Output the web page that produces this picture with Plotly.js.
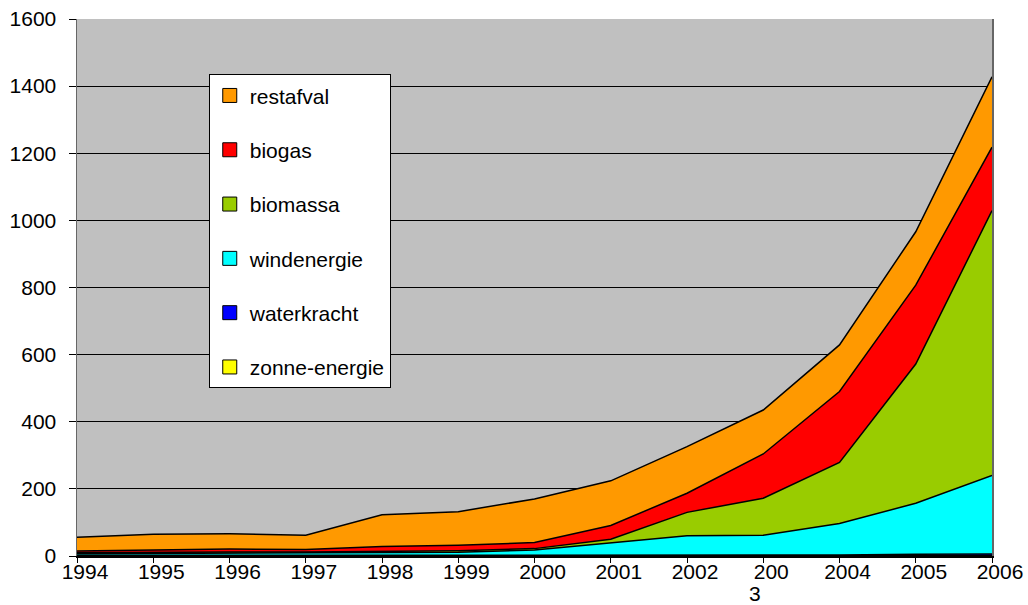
<!DOCTYPE html>
<html>
<head>
<meta charset="utf-8">
<script src="https://cdn.plot.ly/plotly-3.0.1.min.js"></script>
<style>html,body{margin:0;padding:0;background:#fff;}#chart{width:1028px;height:605px;}</style>
</head>
<body>
<div id="chart"></div>
<script>
const years = [1994,1995,1996,1997,1998,1999,2000,2001,2002,2003,2004,2005,2006];
const yearLabels = ["1994","1995","1996","1997","1998","1999","2000","2001","2002","200","2004","2005","2006"];
const wrappedLabelPart = "3";
const zonneEnergie = [0,0,0,0,0,0,0,0,0,0,0,1,1];
const waterkracht  = [2,2,2,2,2,2,2,3,3,3,3,4,5];
const windenergie  = [5,6,6,6,8,9,16,35,57,59,94,152,234];
const biomassa     = [3,4,4,4,4,5,4,12,70,110,182,415,789];
const biogas       = [5,7,9,7,14,16,18,41,57,132,211,235,189];
const restafval    = [41,46,45,43,95,100,130,133,139,131,139,159,210];

const series = [
  {name:'zonne-energie', y:zonneEnergie, color:'#FFFF00'},
  {name:'waterkracht', y:waterkracht, color:'#0000FF'},
  {name:'windenergie', y:windenergie, color:'#00FFFF'},
  {name:'biomassa', y:biomassa, color:'#99CC00'},
  {name:'biogas', y:biogas, color:'#FF0000'},
  {name:'restafval', y:restafval, color:'#FF9900'}
];

const traces = series.map(s => ({
  type:'scatter', mode:'lines', x:years, y:s.y, name:s.name,
  stackgroup:'one', showlegend:false,
  line:{color:'#000', width:1.5},
  fillcolor:s.color
}));

// legend-only entries with square swatches, top entry first (restafval)
const legendTraces = series.slice().reverse().map(s => ({
  type:'scatter', mode:'markers', x:[null], y:[null], name:s.name,
  legendgroup:s.name, showlegend:true,
  marker:{symbol:'square', size:14, color:s.color, line:{color:'#000', width:1}}
}));

const layout = {
  width:1028, height:605,
  margin:{l:77, r:36, t:19, b:49},
  paper_bgcolor:'#fff', plot_bgcolor:'#C0C0C0',
  font:{family:'Arial, Liberation Sans, sans-serif', size:21, color:'#000'},
  showlegend:true,
  legend:{
    x:0.144, y:0.897, xanchor:'left', yanchor:'top',
    bgcolor:'#fff', bordercolor:'#000', borderwidth:1,
    traceorder:'grouped', tracegroupgap:24, itemwidth:30,
    font:{size:21}
  },
  xaxis:{
    range:[1994,2006], tickvals:years, ticktext:yearLabels,
    ticks:'outside', ticklen:5, tickcolor:'#000',
    ticklabelshift:8, ticklabelstandoff:-9,
    showgrid:false, showline:true, linecolor:'#000', linewidth:2,
    zeroline:false
  },
  yaxis:{
    range:[0,1600], dtick:200, tick0:0,
    ticks:'outside', ticklen:7, tickcolor:'#000',
    ticklabelstandoff:8,
    showgrid:true, gridcolor:'#000', gridwidth:1,
    showline:true, linecolor:'#666', linewidth:1.5, mirror:true,
    zeroline:false
  },
  annotations:[{
    x:years[9], xref:'x', y:0, yref:'paper', yanchor:'middle',
    xshift:-8, yshift:-37, text:wrappedLabelPart, showarrow:false,
    font:{size:21, color:'#000'}
  }]
};

Plotly.newPlot('chart', traces.concat(legendTraces), layout, {displayModeBar:false, staticPlot:true});
</script>
</body>
</html>
